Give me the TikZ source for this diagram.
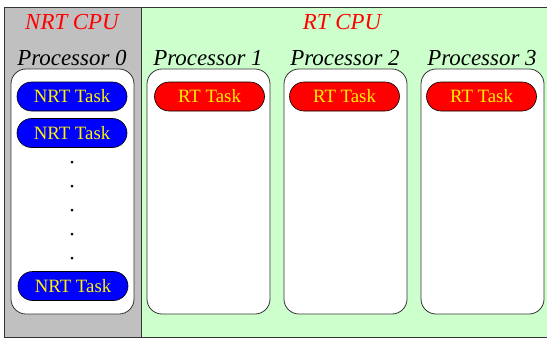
\documentclass[tikz,border=0pt]{standalone}
\usepackage{fontspec}
\setmainfont{Liberation Serif}
\definecolor{nrtbg}{HTML}{C0C0C0}
\definecolor{rtbg}{HTML}{CCFFCC}
\definecolor{edge}{HTML}{333333}
\begin{document}
\begin{tikzpicture}[x=1pt,y=-1pt,
  region/.style={draw=edge,line width=0.9pt},
  procbox/.style={draw=edge,fill=white,line width=0.8pt,rounded corners=15pt},
  cpulabel/.style={text=red,font=\fontsize{22.9}{26}\selectfont\itshape,inner sep=0pt},
  proclabel/.style={text=black,font=\fontsize{22.9}{26}\selectfont\itshape,inner sep=0pt},
  task/.style={draw=black,line width=0.6pt,rounded corners=14.5pt,minimum width=110pt,minimum height=29pt,inner sep=0pt,text=yellow,font=\fontsize{18.8}{22}\selectfont},
  nrttask/.style={task,fill=blue},
  rttask/.style={task,fill=red},
  dotmark/.style={circle,fill=black,inner sep=0pt,minimum size=3pt}]
\useasboundingbox (0,0) rectangle (547,338);
% CPU regions
\fill[nrtbg] (4,7) rectangle (141,337);
\fill[rtbg] (141,7) rectangle (550,337);
\draw[region] (550,7) -- (4,7) -- (4,337) -- (550,337);
\draw[region] (141,7) -- (141,337);
\node[cpulabel] (nrtcpu) at (72,22) {NRT CPU};
\node[cpulabel] (rtcpu) at (342,22) {RT CPU};
% processors
\node[proclabel] (p0) at (72,58) {Processor 0};
\node[proclabel] (p1) at (208,58) {Processor 1};
\node[proclabel] (p2) at (345,58) {Processor 2};
\node[proclabel] (p3) at (482,58) {Processor 3};
\draw[procbox] (11,69) rectangle (134,314);
\draw[procbox] (147,69) rectangle (270,314);
\draw[procbox] (284,69) rectangle (407,314);
\draw[procbox] (421,69) rectangle (544,314);
% tasks
\node[nrttask] (n1) at (72,96.5) {NRT Task};
\node[nrttask] (n2) at (72,133) {NRT Task};
\node[nrttask] (n3) at (73,286) {NRT Task};
\node[dotmark] (d1) at (72,162) {};
\node[dotmark] (d2) at (72,186) {};
\node[dotmark] (d3) at (72,210) {};
\node[dotmark] (d4) at (72,234) {};
\node[dotmark] (d5) at (72,258) {};
\node[rttask] (r1) at (209.5,96.5) {RT Task};
\node[rttask] (r2) at (344.5,96.5) {RT Task};
\node[rttask] (r3) at (481.5,96.5) {RT Task};
\end{tikzpicture}
\end{document}
